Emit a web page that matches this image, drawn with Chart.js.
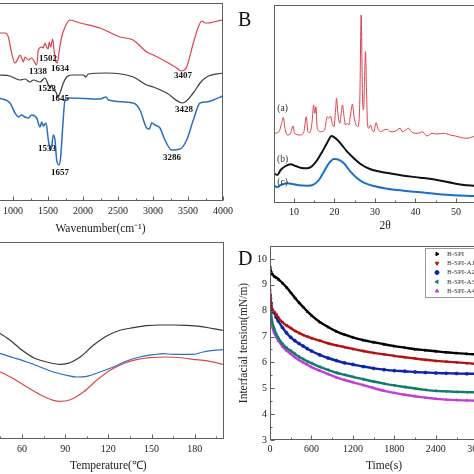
<!DOCTYPE html>
<html>
<head>
<meta charset="utf-8">
<script src="https://cdn.jsdelivr.net/npm/chart.js@4.4.1/dist/chart.umd.min.js"></script>
<style>
  html, body { margin: 0; padding: 0; background: #fff; }
  #wrap { position: relative; width: 474px; height: 474px; overflow: hidden; }
  canvas { position: absolute; }
</style>
</head>
<body>
<div id="wrap">
  <canvas id="chartA" width="300" height="237" style="left:-60px;top:0"></canvas>
  <canvas id="chartB" width="270" height="237" style="left:237px;top:0"></canvas>
  <canvas id="chartC" width="300" height="237" style="left:-60px;top:237px"></canvas>
  <canvas id="chartD" width="270" height="237" style="left:237px;top:237px"></canvas>
</div>
<script>
// ---- A: FTIR ----
const ftirTicks = [500, 1000, 1500, 2000, 2500, 3000, 3500, 4000];
const ftirRedX = [790, 886, 933, 981, 1029, 1076, 1100, 1124, 1148, 1171, 1219, 1267, 1314, 1338, 1362, 1410, 1433, 1457, 1481, 1502, 1519, 1538, 1567, 1586, 1614, 1634, 1662, 1695, 1743, 1814, 1957, 2243, 2529, 2715, 2910, 3005, 3196, 3339, 3405, 3481, 3576, 3648, 3696, 3743, 3790, 3862, 3996];
const ftirRedY = [167, 167, 163, 147, 137, 142, 145, 142, 138, 143, 140, 142, 137, 135, 150, 153, 152, 157, 153, 151, 158, 153, 161, 150, 138, 137, 150, 163, 173, 180, 177, 172, 163, 160, 148, 145, 138, 132, 129, 133, 157, 173, 179, 177, 177, 178, 180];
const ftirBlackX = [790, 957, 1100, 1171, 1243, 1290, 1386, 1457, 1505, 1529, 1552, 1576, 1614, 1638, 1671, 1719, 1767, 1838, 2005, 2043, 2076, 2338, 2719, 2910, 3005, 3196, 3424, 3576, 3672, 3767, 3996];
const ftirBlackY = [125, 124, 120, 121, 118, 120, 118, 122, 115, 112, 115, 110, 108, 103, 107, 117, 123, 125, 125, 123, 126, 127, 123, 115, 113, 107, 97, 107, 117, 123, 127];
const ftirBlueX = [790, 957, 1029, 1076, 1124, 1171, 1219, 1267, 1338, 1386, 1410, 1433, 1471, 1505, 1533, 1552, 1576, 1600, 1624, 1657, 1681, 1710, 1743, 1790, 2243, 2329, 2362, 2719, 2814, 2910, 2948, 2981, 3029, 3100, 3171, 3267, 3386, 3481, 3576, 3672, 3767, 3862, 3996];
const ftirBlueY = [102, 97, 87, 83, 85, 83, 82, 85, 82, 73, 78, 74, 77, 60, 50, 53, 65, 60, 40, 35, 43, 73, 100, 102, 101, 103, 100, 97, 90, 72, 71, 77, 75, 72, 60, 50, 51, 60, 80, 97, 98, 100, 104];
const ftirPeakText = ['1338', '1502', '1634', '1523', '1645', '3407', '3428', '1533', '1657', '3286'];
const ftirPeakX = [1357, 1500, 1672, 1486, 1672, 3429, 3443, 1486, 1672, 3272];
const ftirPeakY = [128, 141, 131, 111, 101, 124, 90, 51, 27, 42];

// ---- B: XRD ----
const xrdTicks = [10, 20, 30, 40, 50, 60];
const xrdRedX = [5.07, 6.3, 6.96, 7.37, 7.78, 8.36, 9.18, 9.75, 10.16, 11.64, 12.46, 13.04, 13.45, 13.94, 14.52, 14.85, 15.17, 15.42, 15.75, 16.57, 17.56, 18.21, 18.62, 19.03, 19.45, 19.86, 20.27, 20.51, 20.84, 21.33, 21.66, 21.99, 22.32, 22.73, 23.14, 23.55, 23.96, 24.46, 24.78, 25.19, 25.77, 26.26, 26.59, 26.92, 27.17, 27.41, 27.66, 27.91, 28.15, 28.48, 28.89, 29.3, 29.71, 30.29, 30.7, 31.36, 32.18, 33.0, 33.82, 34.64, 36.28, 36.69, 37.52, 38.34, 38.75, 39.98, 41.21, 41.62, 42.85, 44.09, 45.32, 46.96, 48.6, 49.84, 51.07, 52.71, 54.44, 57.0, 60.0];
const xrdRedY = [69.7, 71.3, 79.7, 85.7, 74.7, 68, 69.7, 77, 69.7, 68, 71.3, 86.3, 71.3, 70.3, 83, 98, 89.7, 96.3, 74.7, 71.3, 73, 86.3, 84.7, 87, 79.7, 76.3, 93, 104.7, 89.7, 79.7, 89.7, 98, 88, 78, 79.7, 78, 88, 99, 88, 79.7, 76.3, 103, 188, 106.3, 93, 119.7, 151.3, 113, 79.7, 74.7, 78, 73, 71.3, 80.3, 74.7, 71.3, 73, 73.7, 71.3, 71.3, 74.7, 71.3, 73, 74.7, 72.3, 69.7, 70.3, 71.3, 67, 69.7, 69, 69.7, 68, 67, 65.7, 64.7, 66.3, 66, 65];
const xrdBlackX = [5.0, 5.89, 6.71, 7.95, 9.18, 10.41, 11.64, 13.29, 14.52, 15.75, 16.98, 18.21, 19.28, 20.27, 21.5, 23.14, 24.78, 26.43, 28.89, 31.36, 34.64, 37.1, 41.21, 45.32, 49.43, 51.89, 54.44, 60];
const xrdBlackY = [29.7, 28, 33, 37, 38.7, 37, 35.3, 34.7, 37, 43, 51.3, 60.3, 67, 64.7, 59.7, 51.3, 44.7, 39, 33.7, 31.3, 29, 27.3, 25.3, 23, 19.7, 18, 17.3, 16];
const xrdBlueX = [5.0, 5.89, 6.71, 8.36, 9.59, 11.23, 13.29, 14.93, 16.16, 17.39, 18.62, 19.86, 20.68, 22.32, 23.96, 25.61, 27.25, 29.71, 33.0, 37.1, 41.21, 45.32, 49.43, 54.44, 60];
const xrdBlueY = [18, 15.7, 18, 19.7, 19, 17.7, 17.3, 18.7, 23, 31.3, 39.7, 44, 43.7, 39.7, 31.3, 24.7, 20.3, 17, 14.3, 12.3, 10.7, 9, 7.7, 7, 6];
const xrdTags = ['(a)', '(b)', '(c)'];
const xrdTagX = [7.2, 7.2, 7.2];
const xrdTagY = [95, 44, 21];

// ---- C: DSC ----
const dscTicks = [30, 60, 90, 120, 150, 180];
const dscBlackT = [40, 45, 51.9, 58.8, 68.1, 77.3, 86.5, 91.2, 100.4, 109.6, 118.8, 128.1, 137.3, 146.5, 155.8, 165, 174.2, 183.5, 192.7, 200];
const dscBlackY = [108, 105.3, 98.7, 90.3, 81.3, 77, 74.7, 75.3, 82, 93.7, 103, 108.7, 111.3, 113.3, 114, 114, 113.7, 112.7, 110.3, 108.5];
const dscBlueT = [40, 45, 54.2, 63.5, 72.7, 81.9, 91.2, 98.1, 105, 114.2, 123.5, 132.7, 141.9, 151.2, 158.1, 165, 174.2, 178.8, 185.8, 192.7, 200];
const dscBlueY = [87, 85.3, 81.3, 77, 72, 67, 63.7, 62, 62.7, 67, 72, 78, 82, 84.3, 85.3, 84.7, 84.7, 84.7, 87, 88.7, 89.3];
const dscRedT = [40, 45, 54.2, 63.5, 72.7, 81.9, 86.5, 93.5, 102.7, 111.9, 121.2, 130.4, 139.6, 148.8, 160.4, 171.9, 181.2, 190.4, 200];
const dscRedY = [69.5, 67, 60.3, 52, 44.3, 38.7, 37.7, 39.3, 47, 58.7, 68.7, 75.3, 79.3, 81.3, 82, 81, 79.3, 77.7, 74.5];

// ---- D: interfacial tension ----
const timeTicks = [0, 600, 1200, 1800, 2400, 3000];
const tensionTicks = [3, 4, 5, 6, 7, 8, 9, 10];
const tensionTime = [0, 15, 30, 60, 90, 120, 180, 240, 300, 360, 420, 480, 540, 600, 720, 840, 960, 1080, 1200, 1350, 1500, 1650, 1800, 1950, 2100, 2250, 2400, 2550, 2700, 2850, 3000];
const seriesNames = ['B-SPI', 'B-SPI-A1', 'B-SPI-A2', 'B-SPI-A3', 'B-SPI-A4'];
const bspi = [9.7, 9.5, 9.42, 9.33, 9.28, 9.22, 9.07, 8.9, 8.7, 8.5, 8.31, 8.14, 7.97, 7.82, 7.56, 7.37, 7.2, 7.07, 6.97, 6.86, 6.78, 6.7, 6.63, 6.57, 6.51, 6.47, 6.43, 6.39, 6.36, 6.33, 6.31];
const bspiA1 = [8.8, 8.2, 8.05, 7.95, 7.85, 7.73, 7.55, 7.43, 7.33, 7.22, 7.14, 7.06, 7.0, 6.94, 6.84, 6.74, 6.66, 6.59, 6.52, 6.44, 6.37, 6.31, 6.25, 6.2, 6.15, 6.1, 6.06, 6.03, 6.0, 5.97, 5.94];
const bspiA2 = [8.6, 8.3, 8.02, 7.92, 7.75, 7.6, 7.35, 7.14, 6.97, 6.84, 6.73, 6.63, 6.53, 6.44, 6.29, 6.17, 6.07, 5.98, 5.92, 5.84, 5.77, 5.72, 5.68, 5.66, 5.63, 5.61, 5.59, 5.58, 5.57, 5.56, 5.56];
const bspiA3 = [8.3, 7.9, 7.6, 7.32, 7.1, 6.95, 6.72, 6.56, 6.45, 6.33, 6.22, 6.13, 6.04, 5.97, 5.83, 5.71, 5.6, 5.52, 5.44, 5.35, 5.26, 5.18, 5.11, 5.05, 4.99, 4.94, 4.9, 4.88, 4.86, 4.85, 4.84];
const bspiA4 = [7.85, 7.6, 7.4, 7.15, 6.98, 6.84, 6.62, 6.46, 6.33, 6.2, 6.09, 6.0, 5.91, 5.82, 5.68, 5.55, 5.42, 5.32, 5.23, 5.12, 5.01, 4.9, 4.82, 4.75, 4.69, 4.64, 4.59, 4.56, 4.54, 4.53, 4.52];

const serif = '"Liberation Serif", "Times New Roman", Times, serif';
Chart.defaults.font.family = serif;
Chart.defaults.color = '#222';
Chart.defaults.animation = false;

function pts(xs, ys) {
  return xs.map((x, i) => ({ x: x, y: ys[i] }));
}

function curve(xs, ys, color, width) {
  return {
    data: pts(xs, ys),
    borderColor: color,
    borderWidth: width || 1.2,
    pointRadius: 0,
    fill: false,
    cubicInterpolationMode: 'monotone'
  };
}

function fixedTicks(list) {
  return function (scale) { scale.ticks = list.map(v => ({ value: v })); };
}

function axisX(min, max, list, height, title, labelPad, titlePad) {
  return {
    type: 'linear', position: 'bottom', min: min, max: max,
    afterBuildTicks: fixedTicks(list),
    afterFit: function (scale) { scale.height = height; },
    grid: { display: false, drawTicks: false },
    border: { display: false },
    ticks: { autoSkip: false, maxRotation: 0, padding: labelPad, font: { size: 10 }, color: '#222', callback: v => String(v) },
    title: { display: true, text: title, font: { size: 11.5 }, color: '#222', padding: { top: 0, bottom: titlePad } }
  };
}

// frame round the plot and inward tick marks (major + minor)
const frameTicks = {
  id: 'frameTicks',
  afterDatasetsDraw(chart, args, opts) {
    const ctx = chart.ctx, a = chart.chartArea;
    ctx.save();
    ctx.strokeStyle = '#5e5e5e';
    ctx.lineWidth = 1;
    ctx.strokeRect(Math.round(a.left) + 0.5, Math.round(a.top) + 0.5, Math.round(a.width) - 1, Math.round(a.height) - 1);
    ctx.beginPath();
    const x = chart.scales.x;
    const xv = x.ticks.map(t => t.value);
    const xs = xv[1] - xv[0];
    const by = Math.round(a.bottom) - 0.5;
    xv.forEach(v => {
      const p = Math.round(x.getPixelForValue(v)) + 0.5;
      ctx.moveTo(p, by); ctx.lineTo(p, by - 4);
    });
    for (let v = xv[0] - xs / 2; v <= x.max; v += xs) {
      if (v < x.min) continue;
      const p = Math.round(x.getPixelForValue(v)) + 0.5;
      ctx.moveTo(p, by); ctx.lineTo(p, by - 2);
    }
    if (opts.y) {
      const y = chart.scales.y;
      const yv = y.ticks.map(t => t.value);
      const ys = yv[1] - yv[0];
      const lx = Math.round(a.left) + 0.5;
      yv.forEach(v => {
        const p = Math.round(y.getPixelForValue(v)) + 0.5;
        ctx.moveTo(lx, p); ctx.lineTo(lx + 4, p);
      });
      for (let v = yv[0] + ys / 2; v <= y.max; v += ys) {
        const p = Math.round(y.getPixelForValue(v)) + 0.5;
        ctx.moveTo(lx, p); ctx.lineTo(lx + 2, p);
      }
    }
    ctx.stroke();
    ctx.restore();
  }
};

// text notes placed in data coordinates
const notes = {
  id: 'notes',
  afterDatasetsDraw(chart, args, opts) {
    if (!opts.text) return;
    const ctx = chart.ctx;
    ctx.save();
    ctx.font = opts.font;
    ctx.fillStyle = opts.color;
    ctx.textAlign = 'center';
    ctx.textBaseline = 'middle';
    opts.text.forEach((t, i) => {
      ctx.fillText(t, chart.scales.x.getPixelForValue(opts.x[i]), chart.scales.y.getPixelForValue(opts.y[i]));
    });
    if (opts.letter) {
      ctx.font = '20px ' + serif;
      ctx.fillStyle = '#111';
      ctx.textAlign = 'left';
      ctx.textBaseline = 'alphabetic';
      ctx.fillText(opts.letter, opts.letterX, opts.letterY);
    }
    ctx.restore();
  }
};

Chart.register(frameTicks, notes);

// A
new Chart(document.getElementById('chartA'), {
  type: 'line',
  data: {
    datasets: [
      curve(ftirRedX, ftirRedY, '#d9434f'),
      curve(ftirBlackX, ftirBlackY, '#3c3c3c'),
      curve(ftirBlueX, ftirBlueY, '#2a6fc0', 1.5)
    ]
  },
  options: {
    responsive: false,
    maintainAspectRatio: false,
    layout: { padding: { left: 38, right: 17, top: 3, bottom: 0 } },
    scales: {
      x: axisX(500, 4000, ftirTicks, 36, 'Wavenumber(cm⁻¹)', 4, 1.1),
      y: { display: false, min: -1, max: 197 }
    },
    plugins: {
      legend: { display: false },
      tooltip: { enabled: false },
      notes: { text: ftirPeakText, x: ftirPeakX, y: ftirPeakY, font: 'bold 9px ' + serif, color: '#111' }
    }
  }
});

// B
new Chart(document.getElementById('chartB'), {
  type: 'line',
  data: {
    datasets: [
      curve(xrdRedX, xrdRedY, '#d9434f', 1),
      curve(xrdBlackX, xrdBlackY, '#111111', 2),
      curve(xrdBlueX, xrdBlueY, '#1c6fc6', 2)
    ]
  },
  options: {
    responsive: false,
    maintainAspectRatio: false,
    layout: { padding: { left: 36.7, right: 10.5, top: 5, bottom: 0 } },
    scales: {
      x: axisX(5, 60, xrdTicks, 34, '2θ', 3, 4),
      y: { display: false, min: 0, max: 198 }
    },
    plugins: {
      legend: { display: false },
      tooltip: { enabled: false },
      notes: { text: xrdTags, x: xrdTagX, y: xrdTagY, font: '9.5px ' + serif, color: '#333', letter: 'B', letterX: 1, letterY: 26 }
    }
  }
});

// C
new Chart(document.getElementById('chartC'), {
  type: 'line',
  data: {
    datasets: [
      curve(dscBlackT, dscBlackY, '#383838'),
      curve(dscBlueT, dscBlueY, '#2a6fc0'),
      curve(dscRedT, dscRedY, '#d84a4a')
    ]
  },
  options: {
    responsive: false,
    maintainAspectRatio: false,
    layout: { padding: { left: 53.1, right: 16.4, top: 5, bottom: 0 } },
    scales: {
      x: axisX(40, 200, dscTicks, 35, 'Temperature(℃)', 4, 1.1),
      y: { display: false, min: 0, max: 197 }
    },
    plugins: {
      legend: { display: false },
      tooltip: { enabled: false }
    }
  }
});

// D
const dColors = ['#000000', '#b31212', '#0c24a8', '#147a6c', '#c13fd6'];
const dStyles = ['triangle', 'triangle', 'circle', 'triangle', 'triangle'];
const dRot = [90, 180, 0, 270, 0];
const dSeries = [bspi, bspiA1, bspiA2, bspiA3, bspiA4];

const boxLegend = {
  id: 'boxLegend',
  afterDraw(chart) {
    const ctx = chart.ctx, a = chart.chartArea;
    const left = a.left + 155, top = a.top + 1.5;
    ctx.save();
    ctx.strokeStyle = '#9a9a9a';
    ctx.lineWidth = 1;
    ctx.strokeRect(Math.round(left) + 0.5, Math.round(top) + 0.5, 80, 49);
    ctx.font = '7px ' + serif;
    ctx.textBaseline = 'middle';
    ctx.textAlign = 'left';
    chart.data.datasets.forEach((ds, i) => {
      const y = top + 6.5 + i * 9.25;
      ctx.fillStyle = ds.borderColor;
      ctx.strokeStyle = ds.borderColor;
      Chart.helpers.drawPoint(ctx, { pointStyle: ds.pointStyle, radius: 2, rotation: ds.pointRotation, borderWidth: 0.5 }, left + 12, y);
      ctx.fillStyle = '#333';
      ctx.fillText(ds.label, left + 22, y);
    });
    ctx.restore();
  }
};

new Chart(document.getElementById('chartD'), {
  type: 'line',
  data: {
    datasets: dSeries.map((vals, i) => ({
      label: seriesNames[i],
      data: pts(tensionTime, vals),
      borderColor: dColors[i],
      backgroundColor: dColors[i],
      borderWidth: 2.4,
      pointRadius: 1.6,
      pointStyle: dStyles[i],
      pointRotation: dRot[i],
      pointBorderWidth: 0.5,
      cubicInterpolationMode: 'monotone'
    }))
  },
  options: {
    responsive: false,
    maintainAspectRatio: false,
    layout: { padding: { left: 0, right: 9, top: 6, bottom: 0 } },
    scales: {
      x: axisX(0, 3300, timeTicks, 34, 'Time(s)', 3, 1.1),
      y: {
        type: 'linear', min: 3, max: 10.5,
        afterBuildTicks: fixedTicks(tensionTicks),
        afterFit: function (scale) { scale.width = 33; },
        grid: { display: false, drawTicks: false },
        border: { display: false },
        ticks: { autoSkip: false, padding: 3, font: { size: 10 }, color: '#222', callback: v => String(v) },
        title: { display: true, text: 'Interfacial tension(mN/m)', font: { size: 11.5 }, color: '#222', padding: { top: 0.2, bottom: 0 } }
      }
    },
    plugins: {
      legend: { display: false },
      tooltip: { enabled: false },
      frameTicks: { y: true },
      notes: { text: [], x: [], y: [], font: '10px ' + serif, color: '#222', letter: 'D', letterX: 1, letterY: 28 }
    }
  },
  plugins: [boxLegend]
});
</script>
</body>
</html>
